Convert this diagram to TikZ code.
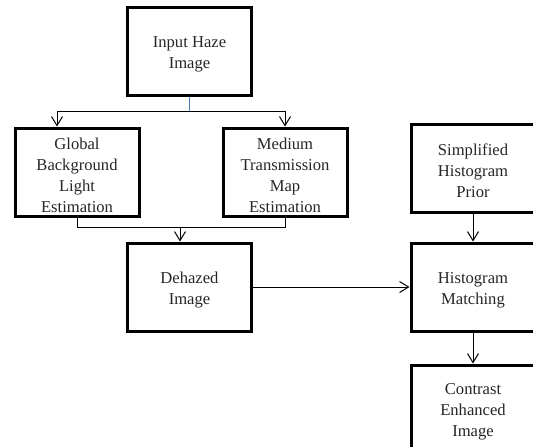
\documentclass[tikz,border=0pt]{standalone}
\usepackage{fontspec}
\setmainfont{Liberation Serif}
\usetikzlibrary{arrows.meta}
\definecolor{linkblue}{RGB}{79,129,189}
\newcommand{\tgap}{\rule{0pt}{17.5pt}}
\begin{document}
\begin{tikzpicture}[x=1pt,y=-1pt,
  box/.style={draw=black, line width=3pt, rectangle, minimum width=124pt, minimum height=88pt,
    align=center, inner sep=2pt, font=\fontsize{16.6pt}{21pt}\selectfont, text=black!85},
  conn/.style={draw=black, line width=1pt},
  arr/.style={conn, -{Straight Barb[length=9pt,width=11pt,line width=1pt]}}]
\clip (0,0) rectangle (533,447);
\useasboundingbox (0,0) rectangle (533,447);
\node[box] (input) at (189.5,51) {\tgap Input Haze\\Image};
\node[box] (global) at (77,172) {\tgap Global\\Background\\Light\\Estimation};
\node[box] (medium) at (285,172) {\tgap Medium\\Transmission\\Map\\Estimation};
\node[box] (dehazed) at (189.5,287) {\tgap Dehazed\\Image};
\node[box] (simplified) at (473,168) {\tgap Simplified\\Histogram\\Prior};
\node[box] (histogram) at (473,287) {\tgap Histogram\\Matching};
\node[box] (contrast) at (473,409) {\tgap Contrast\\Enhanced\\Image};
\coordinate (split) at (189.5,111);
\coordinate (splitL) at (57,111);
\coordinate (splitR) at (285,111);
\coordinate (joinL) at (77,227);
\coordinate (joinR) at (285,227);
\coordinate (joinM) at (180,227);
\draw[line width=1.2pt, linkblue] (input.south) -- (split);
\draw[conn] (splitL) -- (splitR);
\draw[arr] (splitL) -- (splitL |- global.north);
\draw[arr] (splitR) -- (medium.north);
\draw[conn] (global.south) -- (joinL) -- (joinR) -- (medium.south);
\draw[arr] (joinM) -- (joinM |- dehazed.north);
\draw[arr] (dehazed.east) -- (histogram.west);
\draw[arr] (simplified.south) -- (histogram.north);
\draw[arr] (histogram.south) -- (contrast.north);
\end{tikzpicture}
\end{document}
